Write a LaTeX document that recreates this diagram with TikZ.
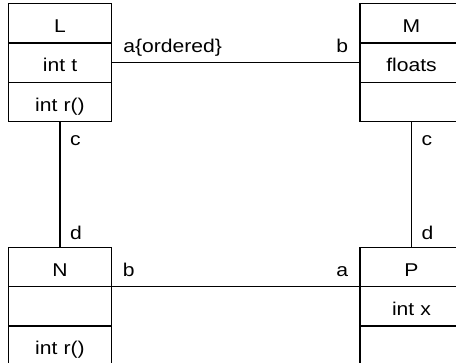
\documentclass[tikz,border=0pt]{standalone}
\usepackage{fontspec}
\setmainfont{Liberation Sans}[FakeStretch=1.14]
\usetikzlibrary{shapes.multipart}

\newcommand{\cpart}[1]{\rule[-10pt]{0pt}{38pt}#1}

\begin{document}
\begin{tikzpicture}[
  x=1pt,y=-1pt,
  font=\fontsize{18.5}{22}\selectfont,
  umlclass/.style={draw, line width=1.4pt, rectangle split, rectangle split parts=3, text width=103pt, inner xsep=0pt, inner ysep=0pt, align=center},
  assoc/.style={line width=1.4pt},
  role/.style={inner sep=0pt}
]
\useasboundingbox (0,0) rectangle (456,363);
\clip (0,0) rectangle (456,363);

% Classes.
\node[umlclass] (L) at (60,62.7) {\cpart{L}\nodepart{two}\cpart{int t}\nodepart{three}\cpart{int r()}};
\node[umlclass] (M) at (411.5,62.7) {\cpart{M}\nodepart{two}\cpart{floats}\nodepart{three}\cpart{}};
\node[umlclass] (N) at (60,306.5) {\cpart{N}\nodepart{two}\cpart{}\nodepart{three}\cpart{int r()}};
\node[umlclass] (P) at (411.5,306.5) {\cpart{P}\nodepart{two}\cpart{int x}\nodepart{three}\cpart{}};

% Associations.
\draw[assoc] (L.east) -- (M.west);
\draw[assoc] (L.south) -- (N.north);
\draw[assoc] (M.south) -- (P.north);
\draw[assoc] (N.one split east) -- (P.one split west);

% Role names.
\node[role, anchor=base west] (Lrole) at ([shift={(11,-10.5)}]L.east) {a\{ordered\}};
\node[role, anchor=base east] (Mrole) at ([shift={(-11,-10)}]M.west) {b};
\node[role, anchor=base west] (Lc) at ([shift={(10,23)}]L.south) {c};
\node[role, anchor=base west] (Nd) at ([shift={(10,-7)}]N.north) {d};
\node[role, anchor=base west] (Mc) at ([shift={(10,23)}]M.south) {c};
\node[role, anchor=base west] (Pd) at ([shift={(10,-7)}]P.north) {d};
\node[role, anchor=base west] (Nb) at ([shift={(10.5,-10)}]N.one split east) {b};
\node[role, anchor=base east] (Pa) at ([shift={(-11,-10)}]P.one split west) {a};
\end{tikzpicture}
\end{document}
